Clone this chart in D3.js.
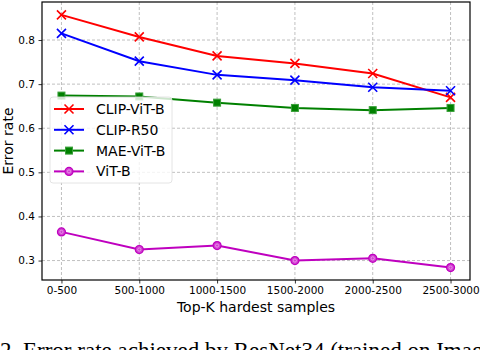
<!DOCTYPE html>
<html><head><meta charset="utf-8">
<script src="https://cdn.jsdelivr.net/npm/d3@7"></script>
<style>body{margin:0;background:#fff}svg{display:block}</style>
</head><body>
<svg id="c" width="480" height="350"></svg>
<script>
const categories = ["0-500","500-1000","1000-1500","1500-2000","2000-2500","2500-3000"];
const clipVitB = [0.857,0.807,0.764,0.747,0.724,0.670];
const clipR50  = [0.815,0.752,0.721,0.709,0.693,0.685];
const maeVitB  = [0.674,0.672,0.658,0.646,0.641,0.646];
const vitB     = [0.365,0.325,0.334,0.300,0.305,0.284];
const yTicks = [0.3,0.4,0.5,0.6,0.7,0.8];
const seriesNames = ["CLIP-ViT-B","CLIP-R50","MAE-ViT-B","ViT-B"];
const seriesColors = ["#ff0000","#0000ff","#008000","#bf00bf"];
const seriesMarkers = ["x","x","square","circle"];
const seriesData = [clipVitB, clipR50, maeVitB, vitB];

const svg = d3.select("#c");
const L=42, R=470, T=2, B=280;
const x = d3.scaleLinear().domain([-0.25, 5.25]).range([L, R]);
const y = d3.scaleLinear().domain([0.2559, 0.8862]).range([B, T]);
const font = "DejaVu Sans, sans-serif";

// grid
const g = svg.append("g");
g.selectAll(".gx").data(categories).enter().append("line")
  .attr("x1",(d,i)=>x(i)).attr("x2",(d,i)=>x(i)).attr("y1",T).attr("y2",B)
  .attr("stroke","#b0b0b0").attr("stroke-width",0.8).attr("stroke-dasharray","3,2");
g.selectAll(".gy").data(yTicks).enter().append("line")
  .attr("x1",L).attr("x2",R).attr("y1",d=>y(d)).attr("y2",d=>y(d))
  .attr("stroke","#b0b0b0").attr("stroke-width",0.8).attr("stroke-dasharray","3,2");

// axes
const xAxis = d3.axisBottom(x).tickValues(d3.range(categories.length)).tickFormat(i=>categories[i]).tickSize(3.5).tickPadding(3.5);
const yAxis = d3.axisLeft(y).tickValues(yTicks).tickFormat(d3.format(".1f")).tickSize(3.5).tickPadding(3.5);
const ax = svg.append("g").attr("transform",`translate(0,${B})`).call(xAxis);
const ay = svg.append("g").attr("transform",`translate(${L},0)`).call(yAxis);
[ax,ay].forEach(a=>{
  a.select(".domain").remove();
  a.selectAll("text").attr("font-family",font).attr("font-size","10.5px").attr("fill","#000");
  a.selectAll("line").attr("stroke","#000").attr("stroke-width",0.8);
});

function marker(sel, type, color, size){
  if(type==="x"){
    const s=size/2;
    sel.append("path").attr("d",`M${-s},${-s}L${s},${s}M${-s},${s}L${s},${-s}`)
      .attr("stroke",color).attr("stroke-width",1.6).attr("fill","none");
  } else if(type==="square"){
    const s=size/2;
    sel.append("rect").attr("x",-s).attr("y",-s).attr("width",size).attr("height",size)
      .attr("fill",color).attr("stroke","#3aa03a").attr("stroke-width",1);
  } else {
    sel.append("circle").attr("r",size/2).attr("fill","#d040d0").attr("stroke",color).attr("stroke-width",1.2);
    sel.append("circle").attr("r",size/5).attr("fill","none").attr("stroke","#f0a0f0").attr("stroke-width",0.8);
  }
}

const line = d3.line().x((d,i)=>x(i)).y(d=>y(d));
seriesData.forEach((data,k)=>{
  const sg = svg.append("g");
  sg.append("path").attr("d",line(data)).attr("fill","none")
    .attr("stroke",seriesColors[k]).attr("stroke-width",2);
  data.forEach((v,i)=>{
    const m = sg.append("g").attr("transform",`translate(${x(i)},${y(v)})`);
    marker(m, seriesMarkers[k], seriesColors[k], seriesMarkers[k]==="x"?9:(seriesMarkers[k]==="square"?7:8));
  });
});

// frame
svg.append("rect").attr("x",L).attr("y",T).attr("width",R-L).attr("height",B-T)
  .attr("fill","none").attr("stroke","#000").attr("stroke-width",1.2);

// legend
const lg = svg.append("g");
lg.append("rect").attr("x",50).attr("y",97).attr("width",122).attr("height",86).attr("rx",3)
  .attr("fill","rgba(255,255,255,0.8)").attr("stroke","#dddddd").attr("stroke-width",0.8);
seriesNames.forEach((n,k)=>{
  const yy = 109 + k*20.8;
  lg.append("line").attr("x1",54).attr("x2",84).attr("y1",yy).attr("y2",yy)
    .attr("stroke",seriesColors[k]).attr("stroke-width",2);
  const m = lg.append("g").attr("transform",`translate(69,${yy})`);
  marker(m, seriesMarkers[k], seriesColors[k], seriesMarkers[k]==="x"?9:(seriesMarkers[k]==="square"?7:8));
  lg.append("text").attr("x",96).attr("y",yy).attr("dy","0.36em").text(n)
    .attr("font-family",font).attr("font-size","14px").attr("fill","#000");
});

// axis labels
svg.append("text").attr("x",(L+R)/2).attr("y",312).attr("text-anchor","middle")
  .attr("font-family",font).attr("font-size","14px").text("Top-K hardest samples");
svg.append("text").attr("transform",`translate(13,${(T+B)/2}) rotate(-90)`).attr("text-anchor","middle")
  .attr("font-family",font).attr("font-size","14px").text("Error rate");

// caption (cut off at bottom, as in the reference)
svg.append("text").attr("x",0).attr("y",358).attr("font-family","Liberation Serif, Times New Roman, serif")
  .attr("font-size","23px").text("2. Error rate achieved by ResNet34 (trained on ImageNet)");
</script>
</body></html>
